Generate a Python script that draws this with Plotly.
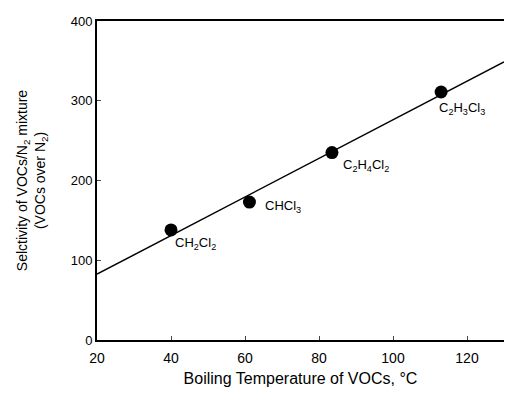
import numpy as np
import plotly.graph_objects as go

compounds = ["CH<sub>2</sub>Cl<sub>2</sub>", "CHCl<sub>3</sub>", "C<sub>2</sub>H<sub>4</sub>Cl<sub>2</sub>", "C<sub>2</sub>H<sub>3</sub>Cl<sub>3</sub>"]
boiling_temp = [40, 61.2, 83.5, 113]
selectivity = [138, 173, 235, 311]
x_ticks = [20, 40, 60, 80, 100, 120]
y_ticks = [0, 100, 200, 300, 400]

# label offsets in pixels (dx, dy)
label_shift = [(2, -14), (14, -4), (9, -13), (-4, -17)]

slope, intercept = np.polyfit(boiling_temp, selectivity, 1)
fit_x = [20, 130]
fit_y = [slope * v + intercept for v in fit_x]

font = "Liberation Sans, Arial, Helvetica, sans-serif"

fig = go.Figure()
fig.add_trace(go.Scatter(x=fit_x, y=fit_y, mode="lines",
                         line=dict(color="black", width=1.5), showlegend=False))
fig.add_trace(go.Scatter(x=boiling_temp, y=selectivity, mode="markers",
                         marker=dict(color="black", size=13), showlegend=False))

for name, xv, yv, (dx, dy) in zip(compounds, boiling_temp, selectivity, label_shift):
    fig.add_annotation(x=xv, y=yv, text=name, showarrow=False,
                       xanchor="left", yanchor="middle", xshift=dx, yshift=dy,
                       font=dict(size=13, color="black", family=font))

fig.update_layout(
    width=504, height=385,
    margin=dict(l=89, r=6, t=6, b=53),
    paper_bgcolor="white", plot_bgcolor="white",
    font=dict(family=font, color="black", size=13),
    xaxis=dict(range=[20, 130], tickvals=x_ticks, ticks="inside", ticklen=4,
               showline=True, linecolor="black", linewidth=2, mirror=True,
               showgrid=False, zeroline=False, ticklabelstandoff=4,
               title=dict(text="Boiling Temperature of VOCs, °C", font=dict(size=16), standoff=8),
               tickfont=dict(size=14)),
    yaxis=dict(range=[0, 400], tickvals=y_ticks, ticks="inside", ticklen=4,
               showline=True, linecolor="black", linewidth=2, mirror=True,
               showgrid=False, zeroline=False,
               title=dict(text="Selctivity of VOCs/N<sub>2</sub> mixture<br>(VOCs over N<sub>2</sub>)",
                          font=dict(size=14), standoff=22),
               tickfont=dict(size=13)),
)

fig.write_html("out.html")
